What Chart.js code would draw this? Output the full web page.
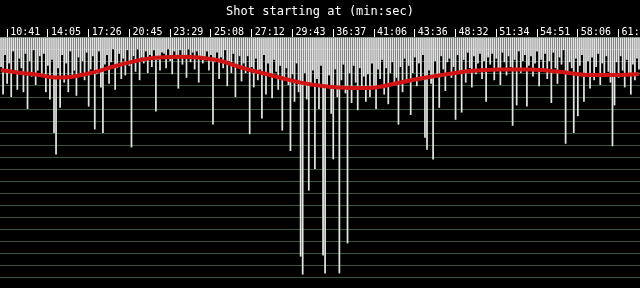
<!DOCTYPE html>
<html>
<head>
<meta charset="utf-8">
<script src="https://cdn.jsdelivr.net/npm/chart.js@4.4.1/dist/chart.umd.min.js"></script>
<style>
  html, body { margin: 0; padding: 0; background: #000; }
  #wrap { width: 640px; height: 288px; }
</style>
</head>
<body>
<div id="wrap"><canvas id="shots" width="640" height="288"></canvas></div>
<script>
// tick labels, one every 20 shots starting at shot 3
const tickTimes = ['10:41', '14:05', '17:26', '20:45', '23:29', '25:08', '27:12', '29:43',
    '36:37', '41:06', '43:36', '48:32', '51:34', '54:51', '58:06', '61:19'];
const firstTick = 3;
const tickEvery = 20;

// shot lengths (seconds), 20 shots per row
const shotLengths = [
    2.5, 4.8, 1.5, 3.9, 2.2, 5.0, 1.2, 3.0, 4.4, 1.8, 2.6, 4.6, 1.4, 6.0, 2.0, 3.3, 1.1, 4.0, 2.8, 1.6,
    3.2, 1.4, 4.6, 2.4, 5.2, 1.9, 8.0, 9.8, 2.6, 5.9, 1.5, 3.8, 2.2, 4.6, 1.2, 3.4, 2.8, 4.9, 1.7, 3.0,
    2.0, 3.6, 1.3, 5.8, 2.7, 1.6, 7.7, 3.1, 1.2, 4.2, 8.0, 2.3, 1.5, 3.9, 2.1, 1.0, 4.4, 2.6, 1.4, 3.5,
    1.8, 3.2, 1.1, 2.4, 9.2, 1.6, 2.9, 1.0, 3.6, 1.7, 2.2, 1.2, 3.0, 1.5, 2.5, 1.1, 6.2, 1.9, 2.8, 1.3,
    1.4, 2.6, 1.0, 2.0, 3.1, 1.2, 1.8, 4.3, 1.1, 2.3, 1.5, 3.4, 1.0, 2.1, 1.3, 2.7, 1.2, 3.8, 1.6, 2.2,
    1.9, 1.2, 2.8, 1.5, 7.3, 2.1, 1.3, 3.5, 1.7, 2.6, 1.1, 4.1, 2.0, 3.0, 1.4, 5.0, 2.4, 1.6, 3.7, 2.2,
    3.0, 1.6, 8.1, 2.5, 4.2, 1.8, 3.6, 2.7, 6.8, 1.5, 4.8, 2.2, 3.3, 5.1, 1.9, 2.9, 4.4, 2.4, 7.8, 3.4,
    2.6, 4.0, 9.5, 3.1, 5.4, 2.2, 4.6, 18.3, 19.8, 3.0, 5.2, 12.8, 4.1, 2.8, 11.0, 3.5, 6.0, 2.4, 18.2, 19.7,
    4.0, 3.2, 6.4, 10.2, 2.7, 5.0, 19.7, 3.6, 2.3, 4.7, 17.2, 3.0, 5.5, 2.4, 3.8, 6.1, 2.6, 4.2, 3.3, 5.4,
    3.1, 5.0, 2.2, 4.3, 6.0, 2.7, 3.5, 1.9, 4.8, 2.6, 5.6, 3.0, 2.1, 4.0, 3.4, 7.3, 2.5, 4.6, 1.8, 3.7,
    2.4, 6.5, 3.0, 1.7, 4.1, 2.2, 3.6, 1.5, 8.4, 9.4, 2.8, 3.9, 10.2, 2.0, 3.2, 5.9, 1.6, 2.7, 4.5, 2.1,
    1.8, 3.4, 2.5, 6.9, 1.5, 2.9, 6.3, 1.9, 3.8, 1.3, 2.6, 4.2, 1.6, 3.1, 2.2, 1.4, 3.5, 2.0, 5.4, 1.7,
    2.3, 1.4, 3.6, 1.8, 2.7, 4.0, 1.3, 2.1, 3.2, 1.6, 2.5, 7.4, 1.9, 5.7, 1.2, 3.0, 2.0, 1.5, 5.8, 2.4,
    1.6, 3.3, 2.2, 1.2, 4.1, 1.9, 2.8, 1.4, 3.5, 2.0, 5.5, 1.3, 2.6, 3.9, 1.7, 2.3, 1.1, 8.9, 3.0, 2.1,
    2.6, 8.0, 1.8, 6.6, 2.4, 1.5, 5.4, 3.1, 2.0, 4.3, 1.7, 3.6, 2.5, 1.4, 4.0, 2.2, 3.3, 1.6, 2.9, 3.8,
    9.1, 5.7, 2.1, 3.4, 1.6, 2.8, 4.2, 1.9, 3.0, 4.8, 2.3, 3.6, 1.8, 2.7
];

// smoothed average shot length (the red curve), at shot positions
const trendIdx = [0, 9, 19, 26, 34, 44, 58, 73, 88, 98, 108, 117, 132, 147, 161, 174, 184, 193,
    203, 215, 230, 245, 260, 274, 289, 301, 313];
const trendVal = [2.75, 2.98, 3.17, 3.38, 3.33, 3.0, 2.33, 1.78, 1.64, 1.73, 2.0, 2.5, 3.17, 3.8,
    4.14, 4.25, 4.2, 3.9, 3.54, 3.2, 2.83, 2.7, 2.7, 2.9, 3.17, 3.17, 3.08];

const labels = shotLengths.map(function(v, i) {
    const k = i - firstTick;
    return (k >= 0 && k % tickEvery === 0) ? tickTimes[k / tickEvery] : '';
});

const trend = shotLengths.map(() => null);
trendIdx.forEach(function(x, i) { trend[x] = trendVal[i]; });

function isTick(i) {
    return labels[i] !== '';
}

const ctx = document.getElementById('shots').getContext('2d');
new Chart(ctx, {
    type: 'bar',
    data: {
        labels: labels,
        datasets: [
            {
                type: 'line',
                data: trend,
                spanGaps: true,
                borderColor: '#d21414',
                borderWidth: 4,
                pointRadius: 0,
                cubicInterpolationMode: 'monotone',
                order: 0
            },
            {
                data: shotLengths,
                backgroundColor: '#e4e4e4',
                barPercentage: 0.85,
                categoryPercentage: 1.0,
                order: 1
            }
        ]
    },
    options: {
        responsive: false,
        animation: false,
        layout: { padding: { bottom: 11 } },
        plugins: {
            legend: { display: false },
            tooltip: { enabled: false }
        },
        scales: {
            x: {
                position: 'top',
                border: { display: false },
                title: {
                    display: true,
                    text: 'Shot starting at (min:sec)',
                    color: '#ffffff',
                    font: { family: 'DejaVu Sans Mono', size: 12 },
                    padding: { top: 5, bottom: 15.6 }
                },
                grid: {
                    offset: false,
                    drawOnChartArea: false,
                    tickLength: 8,
                    color: function(c) { return isTick(c.index) ? '#ffffff' : 'rgba(0,0,0,0)'; }
                },
                ticks: {
                    autoSkip: false,
                    maxRotation: 0,
                    align: 'start',
                    labelOffset: 3,
                    padding: -9,
                    color: '#ffffff',
                    font: { family: 'DejaVu Sans Mono', size: 10 },
                    callback: function(v, i) { return labels[i]; }
                }
            },
            y: {
                reverse: true,
                min: 0,
                max: 20,
                border: { display: false },
                grid: { color: '#3c553c', drawTicks: false },
                ticks: { display: false, stepSize: 1 }
            }
        }
    }
});
</script>
</body>
</html>
